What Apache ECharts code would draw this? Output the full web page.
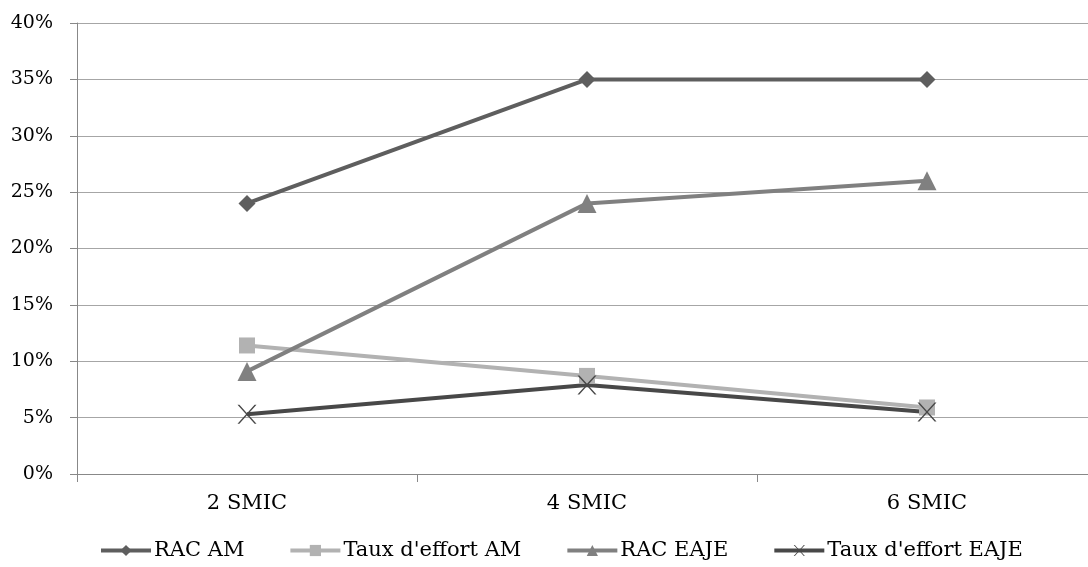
<!DOCTYPE html>
<html><head><meta charset="utf-8">
<script src="https://cdn.jsdelivr.net/npm/echarts@6/dist/echarts.min.js"></script>
<style>html,body{margin:0;padding:0;background:#fff;overflow:hidden;width:1088px;height:567px}#c{width:1098px;height:567px}</style>
</head><body><div id="c"></div>
<script>
var categories = ['2 SMIC', '4 SMIC', '6 SMIC'];
var racAM = [24, 35, 35];
var tauxAM = [11.4, 8.7, 5.9];
var racEAJE = [9.1, 24, 26];
var tauxEAJE = [5.3, 7.9, 5.5];
var seriesNames = ['RAC AM', "Taux d'effort AM", 'RAC EAJE', "Taux d'effort EAJE"];

var font = '"DejaVu Serif", "Liberation Serif", serif';
var chart = echarts.init(document.getElementById('c'));
function mk(name, data, color, symbol, size) {
  return {
    name: name, type: 'line', data: data, symbol: symbol, symbolSize: size,
    lineStyle: {color: color, width: 4}, itemStyle: {color: color},
    emphasis: {disabled: true}
  };
}
var xSym = 'path://M0,0 L2,0 L10,8 L18,0 L20,0 L11,9 L20,18 L18,18 L10,10 L2,18 L0,18 L9,9 Z';
chart.setOption({
  animation: false,
  textStyle: {fontFamily: font},
  grid: {left: 77, right: 1, top: 23, bottom: 93},
  legend: {
    bottom: 1, left: 94, itemWidth: 50, itemHeight: 14, itemGap: 44,
    lineStyle: {width: 4},
    textStyle: {fontFamily: font, fontSize: 21, color: '#000', padding: [0, 0, 0, -2]},
    data: seriesNames
  },
  xAxis: {
    type: 'category', data: categories, boundaryGap: true,
    axisLine: {lineStyle: {color: '#888', width: 1}},
    axisTick: {show: true, length: 8, lineStyle: {color: '#888'}},
    axisLabel: {fontFamily: font, fontSize: 21, color: '#000', margin: 19}
  },
  yAxis: {
    type: 'value', min: 0, max: 40, interval: 5,
    axisLine: {show: true, lineStyle: {color: '#888'}},
    axisTick: {show: true, length: 7, lineStyle: {color: '#888'}},
    axisLabel: {fontFamily: font, fontSize: 19, color: '#000', margin: 24, formatter: '{value}%'},
    splitLine: {lineStyle: {color: '#a6a6a6', width: 1}}
  },
  series: [
    mk(seriesNames[0], racAM, '#5e5e5e', 'diamond', 17),
    mk(seriesNames[1], tauxAM, '#b2b2b2', 'rect', 16),
    mk(seriesNames[2], racEAJE, '#808080', 'triangle', 19),
    mk(seriesNames[3], tauxEAJE, '#484848', xSym, 19)
  ]
});
</script></body></html>
